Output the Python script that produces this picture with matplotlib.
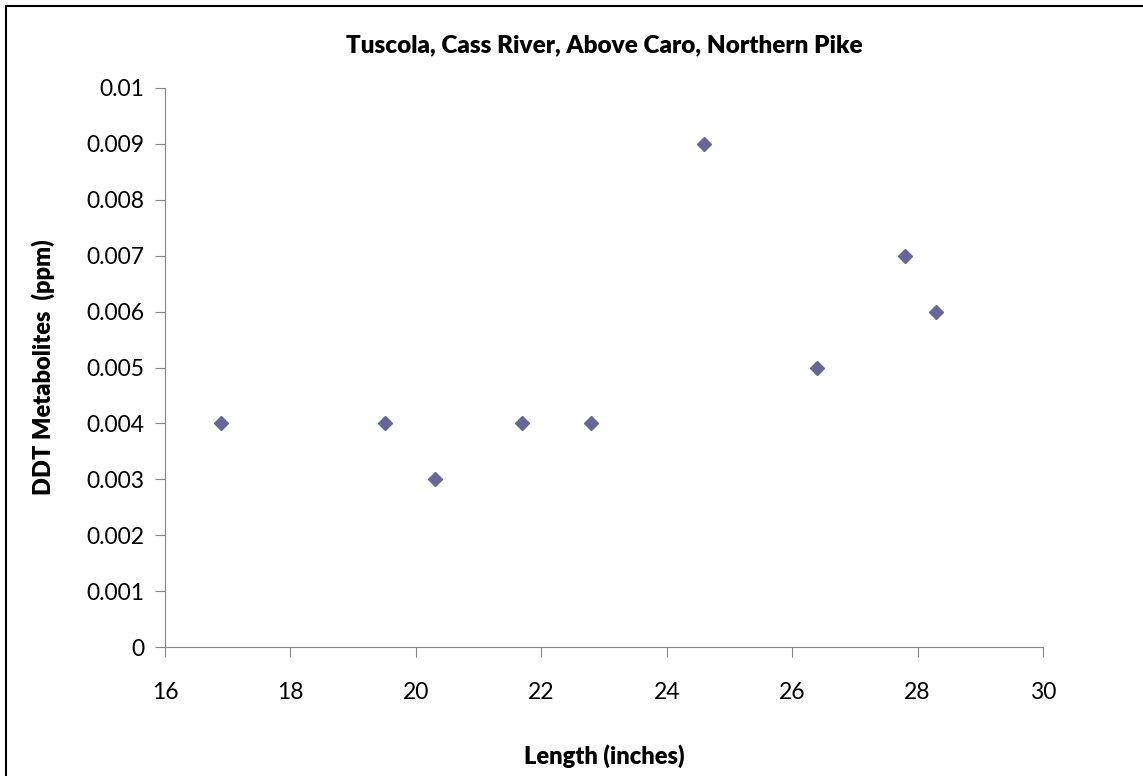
import matplotlib.pyplot as plt
from matplotlib.patches import Rectangle

length = [16.9, 19.5, 20.3, 21.7, 22.8, 24.6, 26.4, 27.8, 28.3]
ddt = [0.004, 0.004, 0.003, 0.004, 0.004, 0.009, 0.005, 0.007, 0.006]
x_ticks = [16, 18, 20, 22, 24, 26, 28, 30]
y_ticks = [0, 0.001, 0.002, 0.003, 0.004, 0.005, 0.006, 0.007, 0.008, 0.009, 0.01]
y_labels = ['0', '0.001', '0.002', '0.003', '0.004', '0.005', '0.006', '0.007', '0.008', '0.009', '0.01']

plt.rcParams['font.family'] = ['Lato', 'DejaVu Sans']

W, H = 1143, 776
fig = plt.figure(figsize=(W / 100, H / 100), dpi=100)
ax = fig.add_axes([165 / W, 1 - 647 / H, (1043 - 165) / W, (647 - 88) / H])

ax.plot(length, ddt, linestyle='none', marker='D', markersize=7,
        color='#666699', markeredgecolor='#666699')

ax.set_xlim(16, 30)
ax.set_ylim(0, 0.01)
ax.set_xticks(x_ticks)
ax.set_yticks(y_ticks)
ax.set_yticklabels(y_labels)
ax.tick_params(labelsize=16.5, direction='out', length=7, color='#868686', pad=8)
ax.tick_params(axis='x', pad=18)

for s in ['top', 'right']:
    ax.spines[s].set_visible(False)
ax.spines['left'].set_color('#868686')
ax.spines['bottom'].set_color('#868686')

ax.set_title('Tuscola, Cass River, Above Caro, Northern Pike',
             fontsize=17.5, fontweight='heavy', pad=26)
ax.set_xlabel('Length (inches)', fontsize=17, fontweight='heavy', labelpad=30)
ax.set_ylabel('DDT Metabolites  (ppm)', fontsize=17, fontweight='heavy', labelpad=22)

# outer chart border
fig.patches.append(Rectangle((6 / W, -0.05), 1.1, 1 - 6 / H + 0.05,
                             transform=fig.transFigure, fill=False,
                             edgecolor='black', linewidth=1.5))

fig.savefig('out.png', dpi=100)
